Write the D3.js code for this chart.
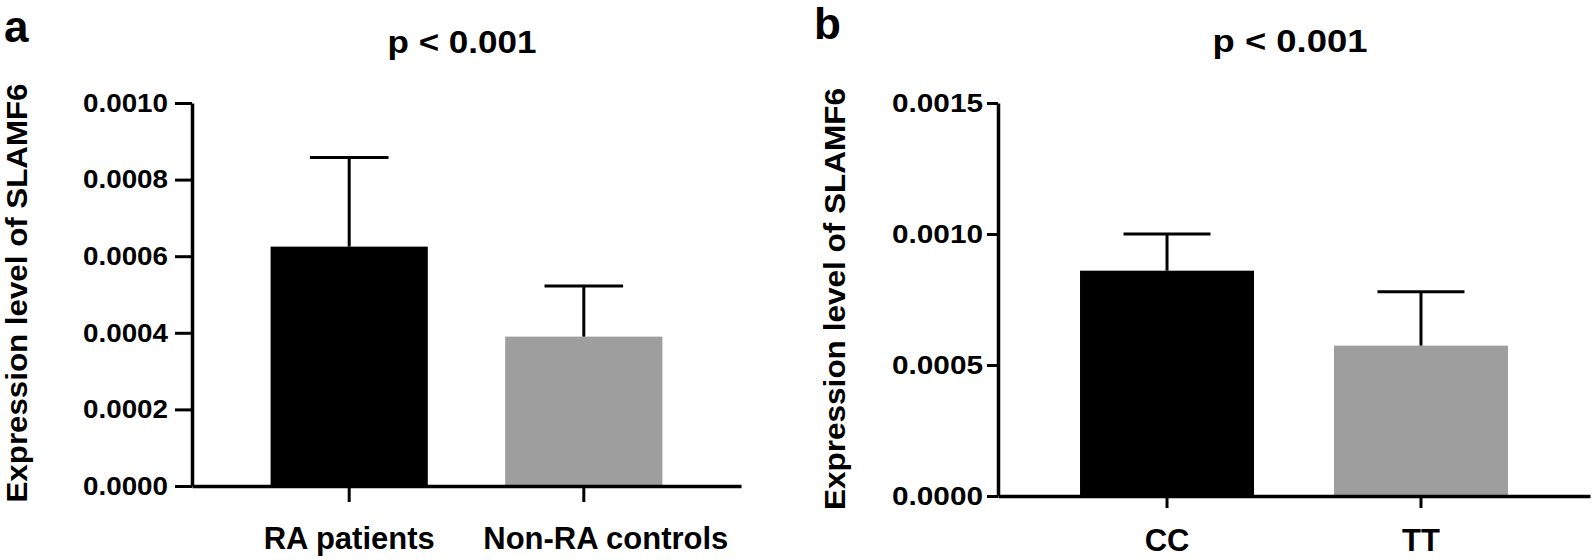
<!DOCTYPE html>
<html>
<head>
<meta charset="utf-8">
<script src="https://cdn.jsdelivr.net/npm/d3@7"></script>
<style>
  html, body { margin: 0; padding: 0; background: #fff; }
  svg { display: block; }
  text { font-family: "Liberation Sans", Arial, Helvetica, sans-serif; font-weight: bold; fill: #000; }
</style>
</head>
<body>
<svg id="chart" width="1592" height="560"></svg>
<script>
// ---- data ----
const categoriesA = ["RA patients", "Non-RA controls"];
const meansA = [0.000625, 0.00039];
const sdA = [0.000233, 0.000132];
const ticksA = [0, 0.0002, 0.0004, 0.0006, 0.0008, 0.0010];
const tickLabelsA = ["0.0000", "0.0002", "0.0004", "0.0006", "0.0008", "0.0010"];

const categoriesB = ["CC", "TT"];
const meansB = [0.00086, 0.000574];
const sdB = [0.00014, 0.000206];
const ticksB = [0, 0.0005, 0.0010, 0.0015];
const tickLabelsB = ["0.0000", "0.0005", "0.0010", "0.0015"];

const barColors = ["#000000", "#9e9e9e"];
const yTitle = "Expression level of SLAMF6";
const pText = "p < 0.001";

// ---- drawing ----
const svg = d3.select("#chart");

function fit(sel, w) {
  sel.attr("textLength", w).attr("lengthAdjust", "spacingAndGlyphs");
}

function drawPanel(o) {
  const g = svg.append("g");
  const y = d3.scaleLinear().domain([0, o.yMax]).range([o.y0, o.yTop]);
  const x = d3.scaleBand().domain(o.cats).range([o.xLeft, o.xRight])
    .paddingInner(o.padIn).paddingOuter(o.padOut);

  // bars
  g.selectAll("rect.bar").data(o.means).join("rect")
    .attr("x", (d, i) => x(o.cats[i]))
    .attr("y", d => y(d))
    .attr("width", x.bandwidth())
    .attr("height", d => y(0) - y(d))
    .attr("fill", (d, i) => barColors[i]);

  // error bars (upper only)
  const eb = g.selectAll("g.err").data(o.means).join("g");
  eb.append("line")
    .attr("x1", (d, i) => x(o.cats[i]) + x.bandwidth() / 2)
    .attr("x2", (d, i) => x(o.cats[i]) + x.bandwidth() / 2)
    .attr("y1", d => y(d))
    .attr("y2", (d, i) => y(d + o.sd[i]))
    .attr("stroke", "#000").attr("stroke-width", 3);
  eb.append("line")
    .attr("x1", (d, i) => x(o.cats[i]) + x.bandwidth() * 0.25)
    .attr("x2", (d, i) => x(o.cats[i]) + x.bandwidth() * 0.75)
    .attr("y1", (d, i) => y(d + o.sd[i]))
    .attr("y2", (d, i) => y(d + o.sd[i]))
    .attr("stroke", "#000").attr("stroke-width", 3);

  // y axis
  const yAxis = d3.axisLeft(y).tickValues(o.ticks)
    .tickFormat((d, i) => o.tickLabels[i])
    .tickSize(o.yTick).tickSizeOuter(0).tickPadding(o.yPad);
  const ga = g.append("g").attr("transform", `translate(${o.xLeft},0)`).call(yAxis);
  ga.select(".domain").attr("stroke", "#000").attr("stroke-width", 3.5);
  ga.selectAll(".tick line").attr("stroke", "#000").attr("stroke-width", 3);
  ga.selectAll(".tick text")
    .style("font-size", o.tickFont + "px").style("font-family", null).attr("fill", "#000")
    .call(fit, o.tickW);

  // x axis
  const xAxis = d3.axisBottom(x).tickSize(o.xTick).tickSizeOuter(0).tickFormat("");
  const gx = g.append("g").attr("transform", `translate(0,${o.y0})`).call(xAxis);
  gx.select(".domain").attr("stroke", "#000").attr("stroke-width", 3.5);
  gx.selectAll(".tick line").attr("stroke", "#000").attr("stroke-width", 3);

  // category labels
  g.selectAll("text.cat").data(o.cats).join("text")
    .attr("class", "cat")
    .attr("x", (d, i) => x(d) + x.bandwidth() / 2 + (o.catDx[i] || 0))
    .attr("y", o.catY)
    .attr("text-anchor", "middle")
    .style("font-size", "31px")
    .text(d => d);

  // y title
  g.append("text")
    .attr("transform", `translate(${o.yTitleX},${o.yTitleY}) rotate(-90)`)
    .attr("text-anchor", "middle")
    .style("font-size", "29px")
    .text(yTitle)
    .call(fit, o.yTitleW);

  // p-value title
  g.append("text")
    .attr("x", o.pX).attr("y", o.pY)
    .attr("text-anchor", "middle")
    .style("font-size", "32px")
    .text(pText)
    .call(fit, o.pW);

  // panel letter
  g.append("text")
    .attr("x", o.letterX).attr("y", o.letterY)
    .style("font-size", "44px")
    .text(o.letter);
}

drawPanel({
  cats: categoriesA, means: meansA, sd: sdA, ticks: ticksA, tickLabels: tickLabelsA,
  yMax: 0.0010, y0: 486, yTop: 103, xLeft: 192, xRight: 741,
  padIn: 0.33, padOut: 0.335, yTick: 17, yPad: 7, xTick: 16,
  tickFont: 26, tickW: 85, catY: 549, catDx: [0, 22],
  yTitleX: 27, yTitleY: 293, yTitleW: 419,
  pX: 462, pY: 53, pW: 149, letter: "a", letterX: 4, letterY: 42
});

drawPanel({
  cats: categoriesB, means: meansB, sd: sdB, ticks: ticksB, tickLabels: tickLabelsB,
  yMax: 0.0015, y0: 496, yTop: 103, xLeft: 998, xRight: 1590,
  padIn: 0.315, padOut: 0.323, yTick: 11, yPad: 4, xTick: 12,
  tickFont: 26, tickW: 91, catY: 551, catDx: [0, 0],
  yTitleX: 845, yTitleY: 299, yTitleW: 422,
  pX: 1290, pY: 52, pW: 155, letter: "b", letterX: 814, letterY: 39
});
</script>
</body>
</html>
